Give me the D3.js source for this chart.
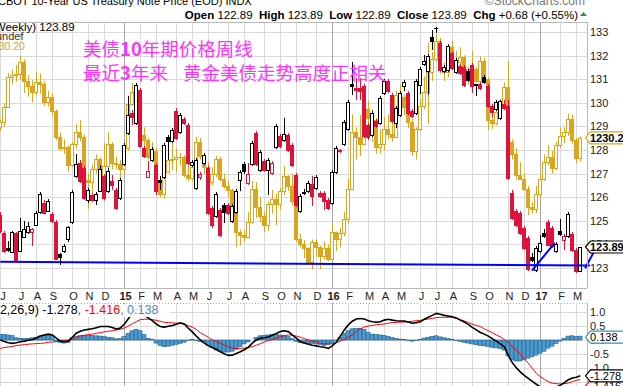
<!DOCTYPE html>
<html>
<head>
<meta charset="utf-8">
<title>CBOT 10-Year US Treasury Note vs Gold, weekly</title>
<script src="https://cdn.jsdelivr.net/npm/d3@7"></script>
<style>
  body { margin: 0; background: #fff; }
  svg { display: block; }
  text { font-family: Arial, "Liberation Sans", sans-serif; }
</style>
</head>
<body>
<div id="chart"></div>
<script>
// weekly 10-year note (CBOT) OHLC, Jun 2014 .. Mar 2017
var tnOpen = [125.25,124.48,123.85,123.68,124.48,123.72,124.31,124.53,124.53,124.82,
125.37,125.75,125.42,125.29,124.95,123.59,123.72,124.23,124.95,126.90,
127.45,127.24,125.88,126.09,125.88,126.26,126.90,126.26,126.69,126.31,
125.97,127.41,128.72,129.57,129.14,130.54,128.08,126.86,127.58,127.36,
126.73,126.86,128.55,128.38,129.65,128.76,129.31,129.06,127.36,126.39,
126.86,127.45,127.24,125.54,125.20,125.46,125.67,125.67,124.99,125.37,
126.73,127.41,126.60,127.41,128.72,127.15,127.53,127.15,127.03,128.13,
128.59,128.42,128.64,128.21,126.94,125.42,126.18,126.26,126.56,126.39,
126.18,126.18,125.88,125.75,127.07,128.00,128.25,128.89,130.80,130.63,
130.63,130.71,129.06,128.64,129.23,129.14,130.42,130.92,130.33,129.14,
129.48,130.71,130.42,129.65,129.57,130.75,131.64,131.35,132.79,133.19,
132.53,131.35,131.39,132.11,131.31,131.56,131.52,131.35,131.60,130.78,
130.80,131.09,130.71,129.86,129.74,129.36,129.95,129.86,126.18,125.42,
125.33,124.69,124.27,123.47,122.92,123.72,124.48,124.95,124.69,123.72,
124.57,124.19,124.36,124.44,123.76,122.89];
var tnHigh = [125.37,124.57,124.14,124.57,124.53,125.12,124.99,124.95,124.69,125.42,
126.22,125.88,125.92,125.37,125.03,123.64,124.02,124.78,126.31,127.83,
127.58,127.32,126.39,126.18,126.22,127.36,126.98,127.24,126.94,126.39,
126.81,128.30,130.29,129.69,130.84,130.63,128.17,127.53,128.13,127.45,
126.90,128.30,128.64,128.93,129.78,129.57,129.40,129.14,127.58,127.66,
127.07,127.87,127.32,125.63,126.22,125.54,125.75,125.75,125.71,126.35,
127.15,127.49,127.45,128.38,128.81,128.00,127.62,127.66,127.53,129.10,
128.68,129.36,128.72,128.30,127.03,126.14,126.35,126.69,126.90,126.94,
126.26,126.26,125.97,127.15,128.17,128.04,129.27,130.12,131.73,131.05,
131.05,130.80,129.14,129.65,129.31,130.29,131.01,131.01,130.42,129.86,
130.50,130.97,130.50,129.74,131.01,131.52,132.03,132.07,133.08,133.21,
132.62,131.60,132.49,132.19,131.90,131.64,131.60,131.43,131.69,130.80,
130.88,131.18,130.80,129.95,130.12,130.12,130.12,130.12,126.31,125.50,
125.42,124.78,124.36,123.64,123.93,124.40,124.65,125.03,124.78,124.10,
125.08,124.44,125.37,124.53,123.85,123.89];
var tnLow = [124.48,123.64,123.68,123.64,123.25,123.68,124.27,124.44,123.93,124.78,
125.29,125.29,125.37,124.91,123.34,123.13,123.64,124.10,124.86,126.81,
126.60,125.88,125.75,125.80,125.67,126.22,125.88,126.18,126.31,125.46,
125.88,127.32,128.64,129.06,129.06,128.08,127.66,126.81,127.49,126.09,
126.31,126.77,127.58,128.30,128.42,128.68,129.06,127.36,127.28,126.31,
126.73,127.36,125.25,124.69,125.12,124.31,124.91,125.25,124.91,125.29,
126.26,126.98,126.52,127.32,127.32,127.07,127.07,126.09,126.94,128.04,
128.08,128.34,127.92,127.28,125.58,125.33,126.09,126.18,125.63,126.31,
125.97,125.46,125.46,125.67,126.98,127.87,128.17,128.81,130.33,130.12,
130.12,128.51,128.42,128.55,128.93,129.06,130.33,130.42,129.14,128.93,
129.40,130.50,129.48,129.36,129.48,130.37,131.56,130.33,132.24,132.96,
131.31,131.26,131.31,131.39,131.22,131.18,130.67,130.88,130.42,130.29,
130.54,130.80,129.78,129.40,129.65,129.27,129.69,126.73,125.03,124.74,
124.40,123.76,122.87,123.25,122.83,123.64,124.27,123.93,123.85,123.64,
124.36,123.76,124.27,123.68,122.79,122.89];
var tnClose = [124.57,123.72,123.76,124.53,123.34,124.57,124.65,124.78,124.65,125.33,
126.14,125.33,125.84,124.99,123.38,123.47,123.93,124.74,126.22,127.41,
126.69,125.97,126.31,125.88,126.14,127.19,125.97,127.11,126.52,125.54,
126.73,128.21,129.48,129.40,130.75,128.17,127.75,127.11,128.04,126.26,
126.64,128.21,128.38,128.85,128.51,129.48,129.14,127.45,127.49,127.58,
126.98,127.79,125.33,124.82,126.14,124.40,125.37,125.33,125.63,126.26,
127.07,127.11,126.98,128.30,127.41,127.92,127.15,127.58,127.45,129.02,
128.17,128.68,128.00,127.36,125.67,126.05,126.22,126.60,126.05,126.86,
126.05,125.84,125.54,127.07,128.08,127.94,129.19,130.03,130.71,130.54,
130.50,128.59,128.55,129.57,129.02,130.20,130.92,130.50,129.23,129.78,
130.42,130.88,129.57,129.44,130.92,131.43,131.77,131.98,132.62,133.15,
131.39,131.52,132.41,131.47,131.81,131.26,130.75,130.97,130.71,130.75,
130.63,130.88,129.86,129.61,130.03,130.08,129.78,126.81,125.12,124.82,
124.48,123.85,122.96,123.34,123.85,124.06,124.36,123.97,123.93,124.02,
124.44,124.36,125.29,123.76,122.87,123.89];

// gold overlay, same weeks
var goldOpen = [1246,1252,1274,1316,1318,1320,1337,1310,1303,1294,
1309,1305,1280,1287,1268,1231,1216,1218,1192,1222,
1238,1231,1171,1169,1187,1201,1175,1191,1222,1195,
1194,1186,1216,1277,1294,1279,1234,1227,1204,1212,
1167,1152,1183,1199,1200,1204,1203,1178,1174,1189,
1225,1205,1190,1168,1180,1201,1173,1163,1157,1131,
1099,1094,1091,1113,1159,1133,1121,1108,1138,1145,
1137,1156,1177,1163,1142,1088,1081,1076,1057,1085,
1077,1065,1076,1061,1098,1089,1097,1117,1158,1239,
1231,1222,1271,1258,1255,1217,1222,1243,1235,1231,
1290,1288,1273,1252,1212,1242,1275,1294,1322,1340,
1366,1328,1323,1357,1336,1337,1343,1322,1326,1327,
1310,1338,1313,1255,1251,1266,1275,1302,1225,1207,
1178,1173,1158,1133,1131,1151,1172,1196,1204,1188,
1220,1233,1238,1257,1227,1202];
var goldHigh = [1256,1278,1321,1326,1332,1345,1340,1318,1311,1323,
1320,1310,1296,1292,1270,1238,1228,1220,1225,1250,
1255,1235,1180,1192,1207,1203,1223,1238,1224,1204,
1199,1222,1283,1307,1306,1282,1245,1230,1224,1217,
1175,1190,1215,1224,1215,1209,1206,1193,1194,1232,
1230,1207,1196,1189,1205,1204,1180,1170,1159,1134,
1102,1100,1126,1170,1168,1147,1127,1141,1157,1152,
1160,1191,1178,1180,1144,1096,1087,1077,1088,1088,
1079,1085,1081,1111,1099,1104,1126,1173,1263,1245,
1262,1280,1282,1270,1258,1242,1260,1263,1272,1296,
1305,1290,1282,1257,1245,1285,1316,1363,1350,1375,
1370,1336,1358,1366,1352,1357,1346,1330,1352,1329,
1344,1342,1315,1264,1273,1285,1308,1338,1228,1216,
1196,1180,1163,1140,1163,1180,1207,1220,1212,1225,
1245,1245,1264,1263,1230,1232];
var goldLow = [1240,1245,1272,1305,1309,1312,1293,1288,1280,1290,
1292,1275,1274,1262,1227,1212,1208,1183,1190,1215,
1225,1161,1131,1150,1180,1165,1141,1187,1186,1186,
1172,1180,1212,1275,1252,1231,1217,1200,1197,1163,
1147,1145,1182,1185,1182,1192,1175,1170,1169,1182,
1200,1180,1163,1164,1175,1169,1159,1147,1130,1077,
1080,1085,1090,1110,1118,1112,1098,1100,1124,1108,
1130,1150,1156,1136,1085,1077,1062,1052,1046,1064,
1046,1060,1058,1060,1072,1077,1092,1110,1157,1200,
1205,1220,1240,1225,1208,1208,1213,1228,1225,1230,
1268,1262,1244,1205,1200,1240,1270,1250,1310,1337,
1320,1310,1315,1330,1330,1332,1315,1305,1320,1308,
1308,1308,1241,1243,1248,1260,1272,1219,1200,1172,
1172,1156,1122,1124,1125,1147,1170,1192,1180,1185,
1216,1223,1233,1222,1195,1197];
var goldClose = [1252,1274,1316,1318,1320,1337,1310,1303,1294,1309,
1305,1280,1287,1268,1231,1216,1218,1192,1222,1238,
1231,1171,1169,1187,1201,1175,1191,1222,1195,1194,
1186,1216,1277,1294,1279,1234,1227,1204,1212,1167,
1152,1183,1199,1200,1204,1203,1178,1174,1189,1225,
1205,1190,1168,1180,1201,1173,1163,1157,1131,1099,
1094,1091,1113,1159,1133,1121,1108,1138,1145,1137,
1156,1177,1163,1142,1088,1081,1076,1057,1085,1077,
1065,1076,1061,1098,1089,1097,1117,1158,1239,1231,
1222,1271,1258,1255,1217,1222,1243,1235,1231,1290,
1288,1273,1252,1212,1242,1275,1294,1322,1340,1366,
1328,1323,1357,1336,1337,1343,1322,1326,1327,1310,
1338,1313,1255,1251,1266,1275,1302,1225,1207,1178,
1173,1158,1133,1131,1151,1172,1196,1204,1188,1220,
1233,1238,1257,1227,1202,1230.2];

// MACD(12,26,9) of the note
var macdLine = [0.00,-0.05,-0.10,-0.12,-0.10,-0.06,-0.04,-0.01,0.01,0.07,
0.14,0.18,0.21,0.18,0.07,-0.04,-0.06,-0.04,0.10,0.24,
0.31,0.36,0.38,0.40,0.44,0.48,0.48,0.48,0.45,0.39,
0.43,0.56,0.76,0.95,1.10,1.07,0.88,0.79,0.69,0.57,
0.48,0.46,0.49,0.52,0.56,0.61,0.57,0.42,0.29,0.14,
0.00,-0.11,-0.20,-0.27,-0.33,-0.42,-0.49,-0.55,-0.54,-0.48,
-0.42,-0.35,-0.26,-0.11,0.00,0.06,0.08,0.11,0.17,0.23,
0.30,0.33,0.30,0.18,0.07,-0.06,-0.11,-0.15,-0.19,-0.21,
-0.24,-0.26,-0.30,-0.21,-0.07,0.14,0.36,0.54,0.67,0.75,
0.77,0.75,0.69,0.65,0.64,0.65,0.71,0.74,0.71,0.69,
0.68,0.68,0.64,0.60,0.62,0.65,0.74,0.81,0.88,0.95,
0.92,0.88,0.86,0.83,0.79,0.71,0.64,0.56,0.45,0.36,
0.27,0.21,0.14,0.05,-0.04,-0.14,-0.24,-0.55,-0.81,-0.99,
-1.14,-1.26,-1.37,-1.48,-1.58,-1.68,-1.73,-1.74,-1.73,-1.68,
-1.62,-1.52,-1.42,-1.36,-1.33,-1.278];
var signalLine = [-0.30,-0.27,-0.25,-0.23,-0.20,-0.18,-0.17,-0.15,-0.14,-0.13,
-0.12,-0.11,-0.08,-0.07,-0.06,-0.04,-0.02,-0.01,0.01,0.08,
0.14,0.17,0.19,0.21,0.24,0.26,0.29,0.31,0.33,0.36,
0.38,0.43,0.50,0.58,0.65,0.73,0.74,0.74,0.73,0.70,
0.67,0.63,0.62,0.61,0.60,0.60,0.56,0.51,0.46,0.38,
0.26,0.18,0.10,0.00,-0.06,-0.12,-0.18,-0.24,-0.29,-0.30,
-0.30,-0.29,-0.26,-0.24,-0.19,-0.13,-0.07,-0.02,0.02,0.07,
0.12,0.15,0.18,0.17,0.14,0.10,0.05,0.00,-0.04,-0.07,
-0.12,-0.14,-0.13,-0.14,-0.10,-0.04,0.02,0.10,0.18,0.30,
0.39,0.46,0.50,0.52,0.55,0.56,0.57,0.60,0.62,0.63,
0.64,0.64,0.65,0.67,0.69,0.70,0.73,0.75,0.77,0.80,
0.81,0.81,0.81,0.81,0.77,0.73,0.68,0.62,0.57,0.52,
0.48,0.40,0.33,0.26,0.18,0.11,0.02,-0.10,-0.24,-0.36,
-0.50,-0.67,-0.83,-1.01,-1.19,-1.31,-1.40,-1.49,-1.54,-1.56,
-1.57,-1.56,-1.54,-1.49,-1.44,-1.416];
var macdHist = [0.19,0.20,0.18,0.16,0.08,0.06,0.05,0.06,0.08,0.10,
0.14,0.17,0.19,0.16,-0.05,-0.09,-0.11,-0.09,0.08,0.13,
0.16,0.17,0.16,0.16,0.15,0.14,0.12,0.10,0.08,0.04,
0.05,0.12,0.24,0.33,0.38,0.33,0.19,0.06,0.03,-0.11,
-0.19,-0.24,-0.22,-0.19,-0.16,-0.12,-0.08,-0.02,0.02,-0.02,
-0.05,-0.09,-0.19,-0.28,-0.36,-0.41,-0.43,-0.43,-0.40,-0.33,
-0.24,-0.14,-0.07,0.00,0.09,0.15,0.17,0.18,0.19,0.19,
0.18,0.17,0.12,0.05,-0.05,-0.09,-0.11,-0.12,-0.12,-0.14,
-0.16,-0.19,-0.17,-0.11,-0.02,0.09,0.24,0.33,0.40,0.42,
0.42,0.38,0.28,0.21,0.19,0.18,0.16,0.13,0.09,0.05,
0.03,0.02,-0.02,-0.04,-0.02,0.02,0.07,0.10,0.13,0.15,
0.11,0.08,0.05,0.03,-0.02,-0.05,-0.08,-0.11,-0.14,-0.17,
-0.19,-0.21,-0.23,-0.26,-0.28,-0.31,-0.36,-0.57,-0.71,-0.75,
-0.75,-0.71,-0.65,-0.60,-0.54,-0.47,-0.40,-0.29,-0.22,-0.12,
-0.04,0.06,0.14,0.15,0.12,0.138];

var priceTicks = [123,124,125,126,127,128,129,130,131,132,133];
var macdTicks = [1.0, 0.5, 0.0, -0.5, -1.0];
var macdGrid = [1.0, 0.5, 0.0, -0.5, -1.0, -1.5];

// hand drawn blue lines: [week index, price]
var supportLine = [[0, 123.26], [147.4, 123.11]];
var trendA = [[132.9, 122.89], [138.6, 124.06]];
var trendB = [[146.2, 122.99], [149.75, 124.11]];

var W = 623, H = 386;
var plotR = 587, priceTop = 22, priceBot = 288, macdTop = 303, macdBot = 386;
var n = tnClose.length;
var weeks = d3.timeMonday.range(new Date(2014, 5, 2), new Date(2017, 2, 14));

var x = d3.scaleLinear().domain([0, n - 1]).range([0.3, 580.3]);
var yTN = d3.scaleLinear().domain([123, 133]).range([268, 32]);
var yGold = d3.scaleLinear().domain([1048, 1378.4]).range([268, 32]);
var yMacd = d3.scaleLinear().domain([-1, 1]).range([368, 312]);

var RED = "#dc143c", GOLD = "#daa520", BLUE = "#0000ff";

function cx(i) { return Math.round(x(i)) + 0.5; }
function py(v) { return Math.round(v) + 0.5; }

var svg = d3.select("#chart").append("svg").attr("width", W).attr("height", H);
svg.append("rect").attr("width", W).attr("height", H).attr("fill", "#fff");

var defs = svg.append("defs");
defs.append("clipPath").attr("id", "clipPrice").append("rect")
    .attr("x", 0).attr("y", priceTop).attr("width", plotR).attr("height", priceBot - priceTop);
defs.append("clipPath").attr("id", "clipMacd").append("rect")
    .attr("x", 0).attr("y", macdTop).attr("width", plotR).attr("height", macdBot - macdTop + 20);

// month starts
var monthTicks = [];
weeks.forEach(function(d, i) {
    if (i === 0 || d.getMonth() !== weeks[i - 1].getMonth()) monthTicks.push(i);
});
function isYear(i) { return weeks[i].getMonth() === 0; }

// ---------- price panel grid ----------
var grid = svg.append("g");
grid.selectAll(".hg").data(priceTicks).enter().append("line")
    .attr("x1", 0).attr("x2", plotR)
    .attr("y1", function(d) { return py(yTN(d)); })
    .attr("y2", function(d) { return py(yTN(d)); })
    .attr("stroke", "#dadada");
grid.selectAll(".vg").data(monthTicks).enter().append("line")
    .attr("x1", function(i) { return cx(i); }).attr("x2", function(i) { return cx(i); })
    .attr("y1", priceTop).attr("y2", priceBot)
    .attr("stroke", function(i) { return isYear(i) ? "#a9a9a9" : "#dadada"; });

// ---------- candles ----------
function candles(g, o, h, l, c, yS, colorOf) {
    var idx = d3.range(n);
    g.selectAll(".wick").data(idx).enter().append("line")
        .attr("x1", cx).attr("x2", cx)
        .attr("y1", function(i) { return yS(h[i]); })
        .attr("y2", function(i) { return yS(l[i]); })
        .attr("stroke", colorOf).attr("stroke-width", 1);
    g.selectAll(".body").data(idx).enter().append("rect")
        .attr("x", function(i) { return cx(i) - 2; })
        .attr("width", 3)
        .attr("y", function(i) { return py(yS(Math.max(o[i], c[i]))); })
        .attr("height", function(i) {
            return Math.max(Math.round(yS(Math.min(o[i], c[i]))) - Math.round(yS(Math.max(o[i], c[i]))), 0.01);
        })
        .attr("fill", function(i) { return c[i] < o[i] ? colorOf(i) : "#fff"; })
        .attr("stroke", colorOf).attr("stroke-width", 1);
}

var goldG = svg.append("g").attr("clip-path", "url(#clipPrice)");
candles(goldG, goldOpen, goldHigh, goldLow, goldClose, yGold, function() { return GOLD; });

var tnG = svg.append("g").attr("clip-path", "url(#clipPrice)");
candles(tnG, tnOpen, tnHigh, tnLow, tnClose, yTN, function(i) {
    var prev = i === 0 ? tnOpen[0] : tnClose[i - 1];
    return tnClose[i] >= prev ? "#000" : RED;
});

// ---------- blue annotation lines ----------
var annLine = d3.line().x(function(d) { return x(d[0]); }).y(function(d) { return yTN(d[1]); });
svg.append("g").selectAll("path").data([supportLine, trendA, trendB]).enter().append("path")
    .attr("d", annLine).attr("fill", "none").attr("stroke", BLUE).attr("stroke-width", 2);

// ---------- panel frame ----------
svg.append("line").attr("x1", 0).attr("x2", plotR).attr("y1", priceTop + 0.5).attr("y2", priceTop + 0.5).attr("stroke", "#b8b8b8");
svg.append("line").attr("x1", 0).attr("x2", plotR).attr("y1", priceBot + 0.5).attr("y2", priceBot + 0.5).attr("stroke", "#b8b8b8");
svg.append("line").attr("x1", plotR + 0.5).attr("x2", plotR + 0.5).attr("y1", priceTop).attr("y2", priceBot).attr("stroke", "#b8b8b8");

// ---------- right price axis ----------
var axP = svg.append("g").attr("transform", "translate(" + plotR + ",0)")
    .call(d3.axisRight(yTN).tickValues(priceTicks).tickSize(0).tickPadding(3).tickFormat(d3.format("d")));
axP.select(".domain").remove();
axP.selectAll("text").attr("font-size", 11).attr("fill", "#222").attr("font-family", "Arial, 'Liberation Sans', sans-serif");

function tag(g, yv, label, border, bold) {
    var t = g.append("g").attr("transform", "translate(" + (plotR - 1.5) + "," + yv + ")");
    t.append("path").attr("d", "M0,0 L5,-6 L70,-6 L70,6 L5,6 Z")
        .attr("fill", "#fff").attr("stroke", border).attr("stroke-width", 1.2);
    t.append("text").attr("x", 4.5).attr("y", 4).attr("font-size", 11)
        .attr("font-weight", bold ? "bold" : "normal").attr("fill", "#000").text(label);
}
var tags = svg.append("g");
tag(tags, yGold(goldClose[n - 1]), goldClose[n - 1].toFixed(2), GOLD, true);
tag(tags, yTN(tnClose[n - 1]), tnClose[n - 1].toFixed(2), "#000", true);

// ---------- header ----------
svg.append("text").attr("x", -2).attr("y", 5).attr("font-size", 11).attr("fill", "#000")
    .text("CBOT 10-Year US Treasury Note Price (EOD) INDX");
svg.append("text").attr("x", plotR - 2).attr("y", 5).attr("text-anchor", "end").attr("font-size", 12).attr("fill", "#777")
    .text("\u00a9StockCharts.com");

var last = n - 1;
var chg = tnClose[last] - 123.21;
var info = svg.append("text").attr("x", 578).attr("y", 19).attr("text-anchor", "end")
    .attr("font-size", 11.5).attr("fill", "#000").style("white-space", "pre");
[["Open", 1], [" " + tnOpen[last].toFixed(2) + "  ", 0],
 ["High", 1], [" " + tnHigh[last].toFixed(2) + "  ", 0],
 ["Low", 1], [" " + tnLow[last].toFixed(2) + "  ", 0],
 ["Close", 1], [" " + tnClose[last].toFixed(2) + "  ", 0],
 ["Chg", 1], [" +" + chg.toFixed(2) + " (+0.55%)", 0]].forEach(function(p) {
    info.append("tspan").attr("font-weight", p[1] ? "bold" : "normal").text(p[0]);
});
svg.append("path").attr("d", "M580,16 L583.5,12 L587,16 Z").attr("fill", "#1f9a3a");

// legend in panel
svg.append("text").attr("x", -9).attr("y", 31).attr("font-size", 11.5).attr("fill", "#000")
    .text("(Weekly) " + tnClose[last].toFixed(2));
svg.append("text").attr("x", -4).attr("y", 40).attr("font-size", 11).attr("fill", "#333").text("undef");
svg.append("text").attr("x", -13).attr("y", 50).attr("font-size", 10.5).attr("fill", GOLD)
    .text(goldClose[last].toFixed(2));

// chinese note
var note = svg.append("g").attr("fill", "#ff33ff").attr("font-size", 18.5);
var l1 = note.append("text").attr("x", 83).attr("y", 56).style("font-family", "'Noto Sans CJK SC', sans-serif");
l1.append("tspan").text("美债");
l1.append("tspan").attr("font-weight", "bold").text("10");
l1.append("tspan").text("年期价格周线");
var l2 = note.append("text").attr("x", 83).attr("y", 80).style("font-family", "'Noto Sans CJK SC', sans-serif");
l2.append("tspan").text("最近");
l2.append("tspan").attr("font-weight", "bold").text("3");
l2.append("tspan").text("年来");
note.append("text").attr("x", 183).attr("y", 80).style("font-family", "'Noto Sans CJK SC', sans-serif")
    .text("黄金美债走势高度正相关");

// ---------- month labels ----------
var fmtY = d3.timeFormat("%y"), fmtM = d3.timeFormat("%b");
svg.append("g").selectAll("text").data(monthTicks).enter().append("text")
    .attr("x", function(i) { return Math.max(cx(i) + 1, 3); })
    .attr("y", 300).attr("text-anchor", "middle").attr("font-size", 11)
    .attr("font-weight", function(i) { return isYear(i) ? "bold" : "normal"; })
    .attr("fill", "#222")
    .text(function(i) { return isYear(i) ? fmtY(weeks[i]) : fmtM(weeks[i]).charAt(0); });

// ---------- MACD panel ----------
var mg = svg.append("g");
mg.append("line").attr("x1", 0).attr("x2", plotR).attr("y1", macdTop + 0.5).attr("y2", macdTop + 0.5)
    .attr("stroke", "#aaa").attr("stroke-dasharray", "1,2");
mg.selectAll(".mh").data(macdGrid).enter().append("line")
    .attr("x1", 0).attr("x2", plotR)
    .attr("y1", function(d) { return py(yMacd(d)); }).attr("y2", function(d) { return py(yMacd(d)); })
    .attr("stroke", "#dadada");
mg.selectAll(".mv").data(monthTicks).enter().append("line")
    .attr("x1", function(i) { return cx(i); }).attr("x2", function(i) { return cx(i); })
    .attr("y1", macdTop).attr("y2", macdBot)
    .attr("stroke", function(i) { return isYear(i) ? "#a9a9a9" : "#dadada"; });
mg.append("line").attr("x1", plotR + 0.5).attr("x2", plotR + 0.5).attr("y1", macdTop).attr("y2", macdBot).attr("stroke", "#b8b8b8");

var mc = svg.append("g").attr("clip-path", "url(#clipMacd)");
mc.selectAll(".hb").data(d3.range(n)).enter().append("rect")
    .attr("x", function(i) { return cx(i) - 2.5; })
    .attr("width", 4)
    .attr("y", function(i) { return Math.min(yMacd(macdHist[i]), yMacd(0)); })
    .attr("height", function(i) { return Math.abs(yMacd(macdHist[i]) - yMacd(0)); })
    .attr("fill", "#4f9bcd").attr("stroke", "#1d5f8f").attr("stroke-width", 0.6);
var ml = d3.line().x(function(d, i) { return x(i); }).y(function(d) { return yMacd(d); });
mc.append("path").datum(signalLine).attr("d", ml).attr("fill", "none").attr("stroke", "#f00").attr("stroke-width", 1);
mc.append("path").datum(macdLine).attr("d", ml).attr("fill", "none").attr("stroke", "#000").attr("stroke-width", 1.6);

// label with white backing
mg = svg.append("g");
mg.append("rect").attr("x", 0).attr("y", macdTop + 1).attr("width", 170).attr("height", 13).attr("fill", "#fff").attr("opacity", 0.9);
var mt = mg.append("text").attr("x", -48).attr("y", 314).attr("font-size", 12.5).style("white-space", "pre");
mt.append("tspan").attr("fill", "#000").text("MACD(12,26,9) " + macdLine[last].toFixed(3));
mt.append("tspan").attr("fill", "#f00").text(", " + signalLine[last].toFixed(3));
mt.append("tspan").attr("fill", "#3b8fc6").text(", " + macdHist[last].toFixed(3));

var axM = svg.append("g").attr("transform", "translate(" + plotR + ",0)")
    .call(d3.axisRight(yMacd).tickValues(macdTicks).tickSize(0).tickPadding(3)
        .tickFormat(function(d) { return d.toFixed(1); }));
axM.select(".domain").remove();
axM.selectAll("text").attr("font-size", 11).attr("fill", "#222").attr("font-family", "Arial, 'Liberation Sans', sans-serif");

var mtags = svg.append("g");
tag(mtags, yMacd(macdHist[last]) + 1, macdHist[last].toFixed(3), "#3b8fc6", false);
var yA = yMacd(macdLine[last]);
tag(mtags, Math.max(yMacd(signalLine[last]), yA + 10), signalLine[last].toFixed(3), "#f00", false);
tag(mtags, yA, macdLine[last].toFixed(3), "#000", false);
</script>
</body>
</html>
